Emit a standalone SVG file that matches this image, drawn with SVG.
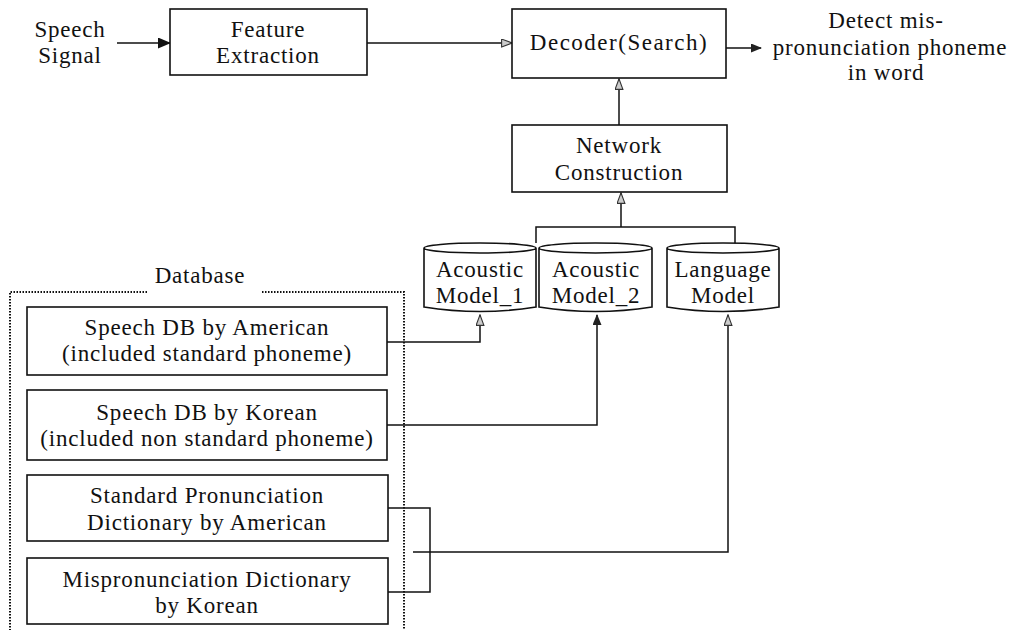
<svg xmlns="http://www.w3.org/2000/svg" width="1015" height="630" viewBox="0 0 1015 630">
<defs>
<style>
text{font-family:"Liberation Serif","Times New Roman",serif;font-size:23px;letter-spacing:0.8px;fill:#111;text-anchor:middle}
.box{fill:#fff;stroke:#111;stroke-width:1.6}
.cyl{fill:#fff;stroke:#111;stroke-width:1.6}
.ln{fill:none;stroke:#111;stroke-width:1.5}
.dot{fill:none;stroke:#111;stroke-width:2;stroke-dasharray:1.5 1.5}
</style>
<marker id="af" markerWidth="13" markerHeight="11" refX="12" refY="5.5" orient="auto" markerUnits="userSpaceOnUse">
<path d="M0,0 L13,5.5 L0,11 Z" fill="#111"/>
</marker>
<marker id="as" markerWidth="11" markerHeight="9" refX="10" refY="4.5" orient="auto" markerUnits="userSpaceOnUse">
<path d="M0,0 L11,4.5 L0,9 Z" fill="#222"/>
</marker>
<marker id="ah" markerWidth="12" markerHeight="9" refX="11" refY="4.5" orient="auto" markerUnits="userSpaceOnUse">
<path d="M0.6,0.6 L11.2,4.5 L0.6,8.4 Z" fill="#ccc" stroke="#333" stroke-width="1.1"/>
</marker>
</defs>

<g id="connectors">
<line class="ln" x1="117" y1="43" x2="170" y2="43" stroke-width="2.6" marker-end="url(#af)"/>
<line class="ln" x1="367" y1="43" x2="512" y2="43" marker-end="url(#ah)"/>
<line class="ln" x1="726" y1="48" x2="761" y2="48" stroke-width="2" marker-end="url(#as)"/>
<line class="ln" x1="619" y1="125" x2="619" y2="79" marker-end="url(#ah)"/>
<polyline class="ln" points="536,243 536,227 735,227 735,244"/>
<line class="ln" x1="621" y1="227" x2="621" y2="193" marker-end="url(#ah)"/>
<polyline class="ln" points="387,342 480,342 480,315" marker-end="url(#ah)"/>
<polyline class="ln" points="387,425 597,425 597,315" marker-end="url(#as)"/>
<polyline class="ln" points="413,552 728,552 728,315" marker-end="url(#ah)"/>
<polyline class="ln" points="388,508 430,508 430,592 388,592"/>
</g>

<g id="speech-signal">
<text x="70" y="37">Speech</text>
<text x="70" y="63">Signal</text>
</g>

<g id="feature-extraction">
<rect class="box" x="170" y="9" width="197" height="66"/>
<text x="268" y="37">Feature</text>
<text x="268" y="63">Extraction</text>
</g>

<g id="decoder">
<rect class="box" x="512" y="9" width="214" height="69"/>
<text x="619" y="50" style="letter-spacing:1.5px">Decoder(Search)</text>
</g>

<g id="output">
<text x="886" y="28">Detect mis-</text>
<text x="890" y="55">pronunciation phoneme</text>
<text x="886" y="80">in word</text>
</g>

<g id="network-construction">
<rect class="box" x="512" y="125" width="215" height="67"/>
<text x="619" y="153">Network</text>
<text x="619" y="180">Construction</text>
</g>

<g id="acoustic-model-1">
<path class="cyl" d="M424,248 A56,5 0 0 1 536,248 V307 Q480,316 424,307 Z M424,248 A56,5 0 0 0 536,248"/>
<text x="480" y="277">Acoustic</text>
<text x="480" y="303">Model_1</text>
</g>

<g id="acoustic-model-2">
<path class="cyl" d="M539,248 A56.5,5 0 0 1 652,248 V307 Q595.5,316 539,307 Z M539,248 A56.5,5 0 0 0 652,248"/>
<text x="596" y="277">Acoustic</text>
<text x="596" y="303">Model_2</text>
</g>

<g id="language-model">
<path class="cyl" d="M667,248 A56,5 0 0 1 779,248 V307 Q723,316 667,307 Z M667,248 A56,5 0 0 0 779,248"/>
<text x="723" y="277">Language</text>
<text x="723" y="303">Model</text>
</g>

<g id="database">
<polyline class="dot" points="147,292 10,292 10,630"/>
<polyline class="dot" points="262,292 404,292 404,630"/>
<text x="200" y="283">Database</text>
</g>

<g id="speech-db-american">
<rect class="box" x="27" y="307" width="360" height="68"/>
<text x="207" y="335">Speech DB by American</text>
<text x="207" y="361">(included standard phoneme)</text>
</g>

<g id="speech-db-korean">
<rect class="box" x="27" y="390" width="360" height="70"/>
<text x="207" y="420">Speech DB by Korean</text>
<text x="207" y="446">(included non standard phoneme)</text>
</g>

<g id="standard-dictionary">
<rect class="box" x="27" y="475" width="361" height="66"/>
<text x="207" y="503">Standard Pronunciation</text>
<text x="207" y="530">Dictionary by American</text>
</g>

<g id="mispronunciation-dictionary">
<rect class="box" x="27" y="558" width="361" height="66"/>
<text x="207" y="587">Mispronunciation Dictionary</text>
<text x="207" y="613">by Korean</text>
</g>
</svg>
